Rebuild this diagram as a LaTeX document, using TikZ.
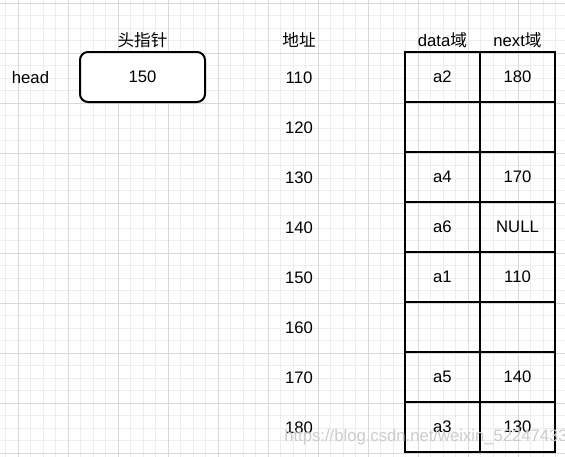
\documentclass[tikz,border=0pt]{standalone}
\usepackage{fontspec}
\setmainfont{Liberation Sans}
\newfontfamily\cjk{Noto Sans CJK SC}
\begin{document}
\begin{tikzpicture}[x=0.75pt,y=-0.75pt,
  minorline/.style={draw=black!7,line width=0.75pt},
  majorline/.style={draw=black!15,line width=0.75pt},
  txt/.style={font=\fontsize{12.5}{14}\selectfont,inner sep=0pt},
  cell/.style={draw=black,line width=1.5pt,minimum width=56.25pt,minimum height=37.5pt,inner sep=0pt,font=\fontsize{12.5}{14}\selectfont},
  ptrbox/.style={draw=black,line width=1.5pt,rounded corners=6pt,minimum width=93.75pt,minimum height=37.5pt,inner sep=0pt,font=\fontsize{12.5}{14}\selectfont,fill=white}]
\useasboundingbox (0,0) rectangle (565,457);
\fill[white] (0,0) rectangle (565,457);
% grid
\foreach \k in {0,...,45} { \draw[minorline] ({5.8+12.5*\k},0) -- ({5.8+12.5*\k},457); }
\foreach \k in {0,...,36} { \draw[minorline] (0,{3.3+12.5*\k}) -- (565,{3.3+12.5*\k}); }
\foreach \k in {0,...,11} { \draw[majorline] ({18.3+50*\k},0) -- ({18.3+50*\k},457); }
\foreach \k in {0,...,9} { \draw[majorline] (0,{3.3+50*\k}) -- (565,{3.3+50*\k}); }
% head pointer
\node[txt] (headlbl) at (30.5,78) {head};
\node[txt] (ptrtitle) at (142.5,40) {\cjk 头指针};
\node[ptrbox] (ptr) at (142.5,77) {150};
% address column
\node[txt] (addrtitle) at (299,40) {\cjk 地址};
\foreach \a [count=\i from 0] in {110,120,130,140,150,160,170,180} {
  \node[txt] (addr\a) at (299,{78+50*\i}) {\a};
}
% table headers
\node[txt] (datatitle) at (442.5,40) {data{\cjk 域}};
\node[txt] (nexttitle) at (517.5,40) {next{\cjk 域}};
% table cells
\foreach \d/\n [count=\i from 0] in {a2/180,/,a4/170,a6/NULL,a1/110,/,a5/140,a3/130} {
  \node[cell] (data\i) at (442.5,{77+50*\i}) {\d};
  \node[cell] (next\i) at (517.5,{77+50*\i}) {\n};
}
% watermark
\node[txt,anchor=west,text=black!20] (wm) at (284,437) {https://blog.csdn.net/weixin\_52247433};
\end{tikzpicture}
\end{document}
